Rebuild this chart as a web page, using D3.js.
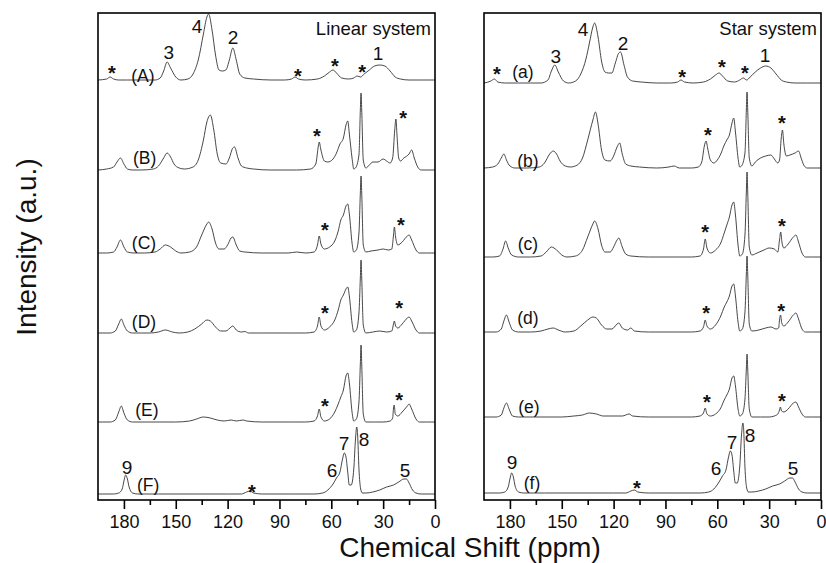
<!DOCTYPE html>
<html>
<head>
<meta charset="utf-8">
<script src="https://cdn.jsdelivr.net/npm/d3@7"></script>
<style>
  body { margin: 0; background: #fff; }
  text { font-family: Arial, "Liberation Sans", sans-serif; fill: #111; }
</style>
</head>
<body>
<div id="graph"></div>
<script>
// spectra: [ppm, intensity], intensity in a.u. above each trace baseline

// linear system
const specA = [[195,0],[190,1],[188,3],[186,1],[183,0],[178,0],[170,0],[162,0],[159,2],[157,9],[155,18],[153,12],[150,3],[147,0],[143,1],[140,6],[137,20],[134,46],[132,63],[131,66],[129,50],[127,25],[125,10],[123,9],[121,10],[119,20],[117,32],[115,20],[113,6],[110,2],[105,1],[95,0],[87,0],[83,1],[81,3],[79,1],[75,0],[68,1],[64,4],[61,8],[59,10],[57,7],[54,2],[50,1],[47,2],[45,4],[43,3],[41,6],[38,10],[35,14],[32,15],[29,14],[26,9],[23,3],[20,1],[15,0],[8,0],[0,0]];
const specB = [[195,0],[190,1],[186,3],[184,8],[182,12],[180,6],[178,1],[175,0],[170,0],[163,1],[160,4],[157,12],[155,17],[153,13],[151,6],[148,2],[145,1],[140,3],[137,10],[134,30],[132,48],[130,55],[128,40],[126,16],[124,7],[121,6],[119,12],[117,22],[116,23],[114,12],[112,4],[109,2],[105,1],[95,0],[80,0],[72,1],[69,6],[67.5,24],[67,28],[66,20],[64,9],[62,8],[59,11],[57,17],[55,26],[53,32],[51.5,45],[50.5,49],[49.5,35],[48,12],[47,1],[46,2],[44,15],[43.2,60],[42.8,77],[42.4,60],[41.5,10],[40,2],[38,5],[36,8],[33,8],[30,11],[28,9],[26,7],[24.5,12],[23.3,40],[22.6,51],[22,35],[21,12],[20,9],[18,12],[15,16],[13.5,20],[12,12],[10,3],[8,0],[4,0],[0,0]];
const specC = [[195,0],[190,0],[186,1],[184,6],[182,13],[180,6],[178,1],[174,0],[168,0],[162,1],[159,4],[156,8],[153,6],[150,2],[147,0],[142,1],[138,6],[135,18],[132,29],[131,31],[129,24],[127,10],[125,4],[122,4],[120,8],[118,15],[117,16],[115,8],[113,2],[110,1],[100,0],[85,0],[80,1],[75,0],[70,1],[68,8],[67,17],[66,9],[64,4],[61,6],[58,12],[56,22],[54.5,33],[53,38],[51.5,47],[50.5,49],[49.5,38],[48,10],[47,1],[45.5,3],[44,20],[43.2,60],[42.8,77],[42.4,60],[41.5,8],[40,1],[37,2],[33,3],[30,4],[27,3],[25,4],[24,18],[23.5,26],[22.8,16],[21.5,8],[19,11],[16,17],[15,18],[13.5,13],[11,3],[9,0],[5,0],[0,0]];
const specD = [[195,0],[188,0],[185,2],[183,9],[181.5,14],[180,8],[178,2],[175,0],[170,0],[165,0],[160,1],[156,3],[152,1],[148,0],[143,1],[139,4],[135,9],[132,13],[130,12],[127,6],[124,2],[121,2],[118,6],[117,7],[115,3],[112,1],[110,1.5],[108,0],[100,0],[85,0],[75,0],[70,1],[68,7],[67,16],[66,7],[64,3],[61,6],[58,13],[56,23],[54.5,33],[53,38],[51.5,44],[50.5,46],[49.5,36],[48,10],[47,1],[45.5,3],[44,20],[43.2,55],[42.8,73],[42.4,55],[41.5,8],[40,0],[36,1],[32,2],[28,1],[25,2],[24,9],[23.5,12],[22.8,7],[21.5,5],[19,9],[16,15],[15,16],[13.5,12],[11,3],[9,0],[5,0],[0,0]];
const specE = [[195,0],[188,0],[185,2],[183,10],[181.5,16],[180,9],[178,2],[175,0],[165,0],[150,0],[142,1],[138,3],[134,5],[130,4],[126,2],[122,1],[118,2],[115,1],[111,2],[109,1],[100,0],[85,0],[75,0],[70,1],[68,6],[67,13],[66,5],[64,1],[61,3],[58,10],[56,18],[54.5,25],[53,32],[51.5,46],[50.5,49],[49.5,38],[48,10],[47,1],[45.5,3],[44,20],[43.2,58],[42.8,77],[42.4,58],[41.5,8],[40,0],[35,0],[30,0],[26,1],[24.5,4],[24,14],[23.6,17],[23,8],[21.5,6],[19,10],[16,16],[15,18],[13.5,13],[11,3],[9,0],[5,0],[0,0]];
const specF = [[195,0],[186,0],[183,1],[181,5],[180,13],[179,19],[178,15],[177,7],[175,1],[172,0],[160,0],[140,0],[120,0],[112,0],[109,2],[107,3],[105,1],[100,0],[85,0],[70,0],[65,1],[62,4],[59,10],[57,16],[55,22],[53.5,35],[52.5,41],[51.5,37],[50.5,22],[49.6,9],[48.5,9],[47,25],[46,55],[45.3,67],[44.8,60],[44,25],[43,5],[42,1],[40,1],[36,2],[32,4],[28,7],[24,9],[21,12],[18,15],[16.5,15],[15,11],[13,4],[11,1],[8,0],[0,0]];

// star system
const speca = [[195,0],[191,2],[189,4],[187,1],[183,0],[175,0],[168,0],[162,0],[158,3],[156,12],[154,18],[152,11],[149,2],[146,0],[142,2],[139,9],[136,24],[134,40],[132,56],[131,60],[129,46],[127,22],[125,11],[123,10],[121,10],[119,20],[117,30],[116,31],[114,18],[112,6],[109,2],[104,1],[95,0],[87,0],[83,1],[81,3],[79,1],[74,0],[68,1],[64,4],[61,8],[59,10],[57,7],[54,2],[50,1],[47,3],[45,5],[43,3],[41,6],[38,11],[35,15],[32,17],[29,15],[26,9],[23,3],[20,1],[15,0],[8,0],[0,0]];
const specb = [[195,0],[190,1],[187,4],[185,10],[183.5,14],[182,8],[180,2],[177,0],[170,0],[163,1],[160,5],[157,14],[155,17],[153,14],[151,7],[148,2],[145,1],[141,3],[138,10],[135,28],[132,48],[130.5,56],[129,44],[127,18],[125,8],[122,7],[120,12],[118,21],[116.5,25],[115,14],[113,4],[110,2],[105,1],[95,0],[88,1],[85,2],[82,0],[75,0],[71,1],[69,6],[67.5,22],[66.5,27],[65.5,19],[64,8],[62,5],[60,8],[58,14],[56,23],[54.5,28],[53,33],[51.5,45],[50.5,50],[49.5,36],[48,10],[47,1],[46,2],[44,15],[43.2,58],[42.8,76],[42.4,58],[41.5,10],[40,2],[38,6],[35,10],[32,12],[29,13],[27,9],[25,5],[24,8],[23,30],[22.3,38],[21.5,24],[20,12],[18,13],[15,15],[13,17],[11.5,10],[10,3],[8,0],[4,0],[0,0]];
const specc = [[195,0],[190,0],[186,1],[184,8],[182.5,16],[181,9],[179,2],[175,0],[168,0],[162,1],[159,5],[156,10],[153,7],[150,2],[147,0],[142,1],[138,7],[135,20],[132,33],[131,36],[129,28],[127,12],[125,5],[122,5],[120,10],[118,17],[117,19],[115,10],[113,3],[110,1],[100,0],[85,0],[75,0],[70,1],[68,8],[67,18],[66,9],[64,4],[61,7],[58,14],[56,24],[54.5,32],[53,40],[51.5,52],[50.5,55],[49.5,42],[48,12],[47,1],[45.5,3],[44,22],[43.2,65],[42.8,85],[42.4,65],[41.5,10],[40,2],[37,4],[33,7],[30,9],[27,8],[25,5],[24,17],[23.3,25],[22.6,15],[21.5,9],[19,13],[16,20],[14.5,22],[13,15],[11,4],[9,0],[5,0],[0,0]];
const specd = [[195,0],[188,0],[185,3],[183.5,11],[182,17],[180.5,10],[178.5,2],[175,0],[168,0],[162,1],[158,3],[155,4],[152,2],[148,0],[143,1],[139,6],[135,12],[132,15],[130,14],[127,7],[124,3],[121,3],[118,8],[117,9],[115,4],[112,2],[110,4],[108,1],[100,0],[85,0],[75,0],[70,1],[68,5],[67,12],[66,6],[64,3],[61,7],[58,16],[56,25],[54.5,30],[53,36],[51.5,46],[50.5,48],[49.5,36],[48,10],[47,1],[45.5,3],[44,20],[43.2,58],[42.8,76],[42.4,58],[41.5,8],[40,1],[36,2],[32,4],[29,5],[26,3],[24.5,4],[24,12],[23.4,17],[22.7,9],[21.5,6],[19,10],[16,17],[14.5,19],[13,13],[11,3],[9,0],[5,0],[0,0]];
const spece = [[195,0],[188,0],[185,2],[183.5,9],[182,14],[180.5,8],[178.5,1],[175,0],[165,0],[150,0],[143,1],[138,2],[134,4],[130,3],[126,1],[122,1],[118,1],[115,1],[111,3],[109,1],[100,0],[85,0],[75,0],[70,1],[68,4],[67,9],[66,3],[64,1],[61,3],[58,9],[56,17],[54.5,22],[53,28],[51.5,39],[50.5,41],[49.5,31],[48,8],[47,1],[45.5,3],[44,18],[43.2,48],[42.8,63],[42.4,48],[41.5,8],[40,0],[35,0],[30,0],[27,1],[25,3],[24,7],[23.5,10],[22.8,6],[21.5,5],[19,8],[16,14],[14.5,15],[13,10],[11,3],[9,0],[5,0],[0,0]];
const specf = [[195,0],[186,0],[183,1],[181,6],[180,14],[179,20],[178,16],[177,7],[175,1],[172,0],[160,0],[140,0],[120,0],[113,0],[110,2],[108,3],[106,1],[100,0],[85,0],[70,0],[65,1],[62,4],[59,11],[57,17],[55,23],[53.5,36],[52.5,42],[51.5,38],[50.5,22],[49.6,10],[48.5,10],[47,27],[46,58],[45.2,70],[44.7,62],[44,26],[43,5],[42,1],[40,1],[36,2],[32,4],[28,7],[24,9],[21,12],[18,15],[16.5,15],[15,11],[13,4],[11,1],[8,0],[0,0]];

// vertical offsets of the stacked traces (a.u.)
const offsetsLinear = [420, 330, 247, 167, 78, 6];
const offsetsStar = [417, 332, 243, 168, 83, 7];

const majorTicks = [180, 150, 120, 90, 60, 30, 0];
const minorTicks = [165, 135, 105, 75, 45, 15];

// labels: [text, ppm, level in a.u.]
const labelsLinear = [
    ["4", 137.7, 474], ["2", 116.9, 463], ["3", 154, 448], ["1", 33, 447],
    ["(A)", 169, 424], ["(B)", 168, 342], ["(C)", 168.4, 257], ["(D)", 168.4, 178], ["(E)", 166.7, 90], ["(F)", 166, 15],
    ["9", 178.2, 33], ["6", 59.6, 30], ["7", 52.7, 57], ["8", 41.1, 61], ["5", 17.4, 30]
];
const starsLinear = [[187, 430], [79.3, 427], [57.9, 437], [42.2, 431], [68.3, 367], [18.5, 385], [63.7, 273], [19.7, 278],
    [63.7, 190], [20.8, 195], [63.7, 97], [20.8, 103], [106, 11]];

const labelsStar = [
    ["4", 137.7, 471], ["2", 114.6, 457], ["3", 153.4, 444], ["1", 32.4, 445],
    ["(a)", 172.5, 428], ["(b)", 169.6, 339], ["(c)", 169.6, 256], ["(d)", 169.6, 182], ["(e)", 169, 93], ["(f)", 167.2, 17],
    ["9", 178.8, 38], ["6", 60.8, 32], ["7", 51.5, 58], ["8", 41.1, 65], ["5", 16.2, 32]
];
const starsStar = [[187.5, 429], [80.4, 426], [57.3, 436], [44, 430], [65.4, 368], [22.6, 380], [67.1, 271], [22.6, 277],
    [66.5, 190], [23.1, 192], [66, 101], [22.6, 102], [106.5, 15]];


const width = 826, height = 563;
const plotTop = 13, plotBottom = 500;

const svg = d3.select("#graph")
    .append("svg")
    .attr("width", width)
    .attr("height", height);

const y = d3.scaleLinear()
    .domain([0, 487])
    .range([plotBottom, plotTop]);

function drawPanel(left, right, spectra, offsets, labels, stars, title) {
    const x = d3.scaleLinear()
        .domain([195, 0])
        .range([left, right]);

    const g = svg.append("g");

    const line = d3.line()
        .x(d => x(d[0]))
        .y(d => y(d[1]))
        .curve(d3.curveMonotoneX);

    g.selectAll("path.spec")
        .data(spectra)
        .enter()
        .append("path")
        .attr("class", "spec")
        .attr("d", (d, i) => line(d.map(p => [p[0], p[1] + offsets[i]])))
        .attr("fill", "none")
        .attr("stroke", "#333")
        .attr("stroke-width", 0.9);

    // bottom axis, major + minor
    g.append("g")
        .attr("transform", "translate(0," + plotBottom + ")")
        .call(d3.axisBottom(x).tickValues(majorTicks).tickSize(9).tickPadding(6).tickFormat(d3.format("d")))
        .call(a => a.select(".domain").remove())
        .call(a => a.selectAll("line").attr("stroke", "#000").attr("stroke-width", 1.6))
        .call(a => a.selectAll("text").attr("font-size", "18px").attr("fill", "#111"));

    g.append("g")
        .attr("transform", "translate(0," + plotBottom + ")")
        .call(d3.axisBottom(x).tickValues(minorTicks).tickSize(5).tickFormat(""))
        .call(a => a.select(".domain").remove())
        .call(a => a.selectAll("line").attr("stroke", "#000").attr("stroke-width", 1.6));

    g.append("rect")
        .attr("x", left)
        .attr("y", plotTop)
        .attr("width", right - left)
        .attr("height", plotBottom - plotTop)
        .attr("fill", "none")
        .attr("stroke", "#000")
        .attr("stroke-width", 1.6);

    g.append("text")
        .attr("x", right - 4)
        .attr("y", plotTop + 22)
        .attr("text-anchor", "end")
        .attr("font-size", "18.5px")
        .text(title);

    g.selectAll("text.lab")
        .data(labels)
        .enter()
        .append("text")
        .attr("class", "lab")
        .attr("x", d => x(d[1]))
        .attr("y", d => y(d[2]))
        .attr("text-anchor", "middle")
        .attr("dominant-baseline", "central")
        .attr("font-size", d => d[0].length > 1 ? "17.5px" : "19px")
        .text(d => d[0]);

    g.selectAll("text.star")
        .data(stars)
        .enter()
        .append("text")
        .attr("class", "star")
        .attr("x", d => x(d[0]))
        .attr("y", d => y(d[1]) + 10)
        .attr("text-anchor", "middle")
        .attr("font-size", "20px")
        .attr("font-weight", "bold")
        .text("*");
}

drawPanel(98, 435, [specA, specB, specC, specD, specE, specF], offsetsLinear, labelsLinear, starsLinear, "Linear system");
drawPanel(484, 821, [speca, specb, specc, specd, spece, specf], offsetsStar, labelsStar, starsStar, "Star system");

svg.append("text")
    .attr("x", 470)
    .attr("y", 557)
    .attr("text-anchor", "middle")
    .attr("font-size", "28px")
    .text("Chemical Shift (ppm)");

svg.append("text")
    .attr("transform", "translate(36," + 247 + ") rotate(-90)")
    .attr("text-anchor", "middle")
    .attr("font-size", "28px")
    .text("Intensity (a.u.)");
</script>
</body>
</html>
